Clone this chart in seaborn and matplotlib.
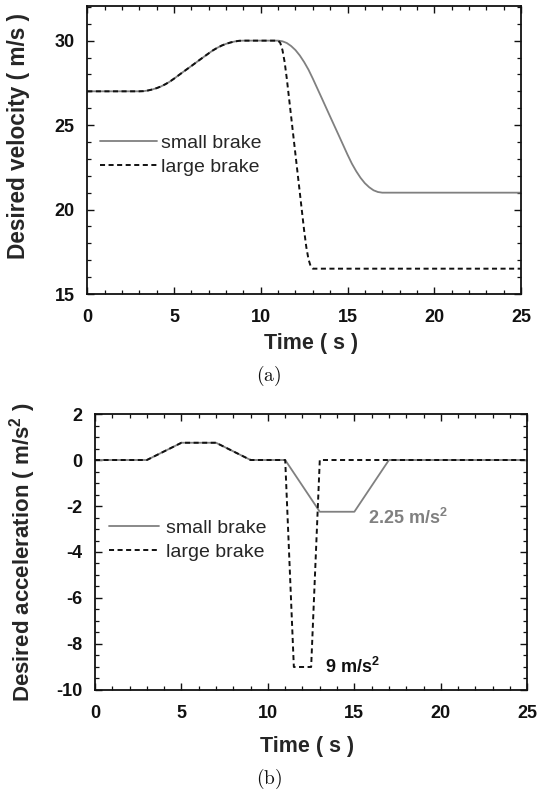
import matplotlib
matplotlib.use("Agg")
import matplotlib.pyplot as plt
from matplotlib.ticker import MultipleLocator
import seaborn as sns

# Desired velocity profiles: time (s) and velocity (m/s)
t_vel_small = [0, 3, 3.25, 3.5, 3.75, 4, 4.25, 4.5, 4.75, 5, 5.5, 6, 6.5, 7,
               7.25, 7.5, 7.75, 8, 8.25, 8.5, 8.75, 9, 11,
               11.25, 11.5, 11.75, 12, 12.25, 12.5, 12.75, 13, 13.5, 14, 14.5,
               15, 15.25, 15.5, 15.75, 16, 16.25, 16.5, 16.75, 17, 25]
vel_small = [27, 27, 27.01, 27.05, 27.11, 27.19, 27.29, 27.42, 27.57, 27.75,
             28.13, 28.5, 28.88, 29.25,
             29.43, 29.58, 29.71, 29.81, 29.89, 29.95, 29.99, 30, 30,
             29.96, 29.86, 29.68, 29.44, 29.12, 28.73, 28.28, 27.75, 26.63,
             25.5, 24.38,
             23.25, 22.72, 22.27, 21.88, 21.56, 21.32, 21.14, 21.04, 21, 21]
t_vel_large = [0, 3, 3.25, 3.5, 3.75, 4, 4.25, 4.5, 4.75, 5, 5.5, 6, 6.5, 7,
               7.25, 7.5, 7.75, 8, 8.25, 8.5, 8.75, 9, 11,
               11.125, 11.25, 11.375, 11.5, 12, 12.5, 12.625, 12.75, 12.875,
               13, 25]
vel_large = [27, 27, 27.01, 27.05, 27.11, 27.19, 27.29, 27.42, 27.57, 27.75,
             28.13, 28.5, 28.88, 29.25,
             29.43, 29.58, 29.71, 29.81, 29.89, 29.95, 29.99, 30, 30,
             29.86, 29.44, 28.73, 27.75, 23.25, 18.75, 17.77, 17.06, 16.64,
             16.5, 16.5]

# Desired acceleration profiles: time (s) and acceleration (m/s^2)
t_acc_small = [0, 3, 5, 7, 9, 11, 13, 15, 17, 25]
acc_small = [0, 0, 0.75, 0.75, 0, 0, -2.25, -2.25, 0, 0]
t_acc_large = [0, 3, 5, 7, 9, 11, 11.5, 12.5, 13, 25]
acc_large = [0, 0, 0.75, 0.75, 0, 0, -9, -9, 0, 0]

series_labels = ["small brake", "large brake"]
time_ticks = [0, 5, 10, 15, 20, 25]
vel_ticks = [15, 20, 25, 30]
acc_ticks = [-10, -8, -6, -4, -2, 0, 2]

GRAY = "#808080"
BLACK = "#111111"
DASH = (0, (2.6, 1.8))

sns.set_style("ticks")
plt.rcParams.update({
    "font.family": ["Liberation Sans", "DejaVu Sans"],
    "mathtext.fontset": "custom",
    "mathtext.rm": "Liberation Sans",
    "mathtext.bf": "Liberation Sans:bold",
    "mathtext.it": "Liberation Sans:italic",
    "axes.unicode_minus": False,
    "axes.edgecolor": "#111111",
    "axes.linewidth": 1.3,
    "xtick.direction": "in",
    "ytick.direction": "in",
    "xtick.top": True,
    "ytick.right": True,
    "xtick.color": "#111111",
    "ytick.color": "#111111",
})

fig = plt.figure(figsize=(5.37, 7.91), dpi=100)
ax_v = fig.add_axes([0.1626, 0.6283, 0.8076, 0.3641])
ax_a = fig.add_axes([0.1769, 0.1277, 0.8050, 0.3489])


def style_axes(ax):
    ax.tick_params(which="major", length=5, width=1.0, pad=11,
                   labelsize=13, top=True, right=True)
    ax.tick_params(axis="y", which="major", pad=9)
    ax.tick_params(which="minor", length=2.8, width=0.9, top=True, right=True)
    for lab in ax.get_xticklabels() + ax.get_yticklabels():
        lab.set_fontweight("bold")
    for sp in ax.spines.values():
        sp.set_visible(True)


# (a) desired velocity
sns.lineplot(x=t_vel_small, y=vel_small, ax=ax_v, color=GRAY, lw=1.3,
             label=series_labels[0], sort=False)
sns.lineplot(x=t_vel_large, y=vel_large, ax=ax_v, color=BLACK, lw=1.4,
             linestyle=DASH, label=series_labels[1], sort=False)
ax_v.set_xlim(0, 25)
ax_v.set_ylim(15, 32.05)
ax_v.set_xticks(time_ticks)
ax_v.set_yticks(vel_ticks)
ax_v.xaxis.set_minor_locator(MultipleLocator(1))
ax_v.yaxis.set_minor_locator(MultipleLocator(1))
style_axes(ax_v)
ax_v.set_xlabel("Time ( s )", fontsize=15.5, fontweight="bold", va="baseline")
ax_v.xaxis.set_label_coords(0.517, -0.191)
ax_v.set_ylabel("Desired velocity ( m/s )", fontsize=16.3, fontweight="bold",
                va="center")
ax_v.yaxis.set_label_coords(-0.158, 0.549)
ax_v.legend(frameon=False, loc="center left", bbox_to_anchor=(0.030, 0.483),
            fontsize=14, handlelength=2.9, handletextpad=0.2,
            labelspacing=0.35, borderpad=0, borderaxespad=0)

# (b) desired acceleration
sns.lineplot(x=t_acc_small, y=acc_small, ax=ax_a, color=GRAY, lw=1.3,
             label=series_labels[0], sort=False)
sns.lineplot(x=t_acc_large, y=acc_large, ax=ax_a, color=BLACK, lw=1.4,
             linestyle=DASH, label=series_labels[1], sort=False)
ax_a.set_xlim(0, 25)
ax_a.set_ylim(-10, 2)
ax_a.set_xticks(time_ticks)
ax_a.set_yticks(acc_ticks)
ax_a.xaxis.set_minor_locator(MultipleLocator(1))
ax_a.yaxis.set_minor_locator(MultipleLocator(0.5))
style_axes(ax_a)
ax_a.set_xlabel("Time ( s )", fontsize=15.5, fontweight="bold", va="baseline")
ax_a.xaxis.set_label_coords(0.4916, -0.2236)
ax_a.set_ylabel(r"Desired acceleration ( m/s$^{\mathbf{2}}$ )", fontsize=16,
                fontweight="bold", va="center")
ax_a.yaxis.set_label_coords(-0.1666, 0.498)
ax_a.legend(frameon=False, loc="center left", bbox_to_anchor=(0.032, 0.543),
            fontsize=14, handlelength=2.6, handletextpad=0.35,
            labelspacing=0.35, borderpad=0, borderaxespad=0)

ax_a.text(15.8, -2.53, r"2.25 m/s$^{\mathbf{2}}$", color=GRAY, fontsize=13,
          fontweight="bold", va="center", ha="left")
ax_a.text(13.3, -9.0, r"9 m/s$^{\mathbf{2}}$", color=BLACK, fontsize=13,
          fontweight="bold", va="center", ha="left")

# panel captions
fig.text(0.5009, 0.5246, r"$\mathrm{(a)}$", math_fontfamily="cm",
         fontsize=14, ha="center", va="center", color="#111111")
fig.text(0.5009, 0.0152, r"$\mathrm{(b)}$", math_fontfamily="cm",
         fontsize=14, ha="center", va="center", color="#111111")

fig.savefig("out.png", dpi=100)
